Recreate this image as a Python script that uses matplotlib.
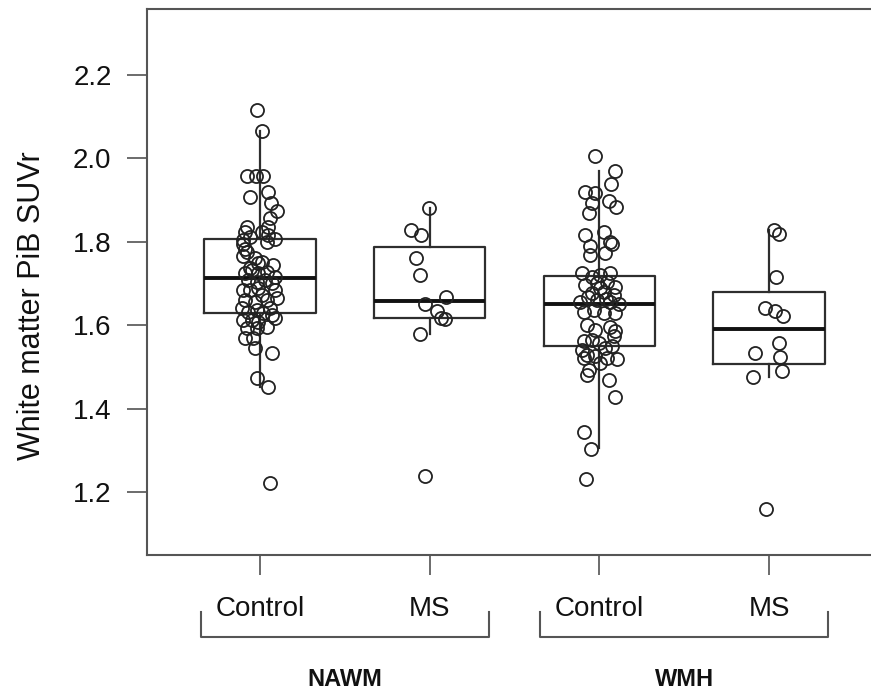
import matplotlib
matplotlib.use("Agg")
import matplotlib.pyplot as plt
import numpy as np

plt.rcParams['font.family'] = ['Liberation Sans', 'DejaVu Sans']

# ---------------- data ----------------
groups = ["NAWM", "NAWM", "WMH", "WMH"]
categories = ["Control", "MS", "Control", "MS"]
group_labels = ["NAWM", "WMH"]
yticks = [1.2, 1.4, 1.6, 1.8, 2.0, 2.2]

# box statistics: (whislo, q1, med, q3, whishi)
box_whislo = [1.452, 1.579, 1.305, 1.475]
box_q1     = [1.629, 1.617, 1.551, 1.506]
box_med    = [1.713, 1.659, 1.650, 1.590]
box_q3     = [1.807, 1.788, 1.719, 1.680]
box_whishi = [2.066, 1.880, 1.971, 1.828]

# individual points: values and horizontal jitter (category units)
nawm_ctrl_val = [2.116, 2.066, 1.958, 1.958, 1.958, 1.908, 1.920, 1.893, 1.874, 1.857,
                 1.836, 1.836, 1.824, 1.812, 1.804, 1.816, 1.807, 1.800, 1.824, 1.795,
                 1.783, 1.776, 1.766, 1.761, 1.749, 1.744, 1.732, 1.725, 1.725, 1.728,
                 1.716, 1.709, 1.704, 1.709, 1.701, 1.685, 1.689, 1.685, 1.661, 1.656,
                 1.661, 1.665, 1.641, 1.632, 1.636, 1.629, 1.625, 1.617, 1.613, 1.613,
                 1.608, 1.596, 1.593, 1.593, 1.569, 1.569, 1.545, 1.533, 1.473, 1.452,
                 1.222, 1.673, 1.737, 1.752, 1.685, 1.641]
nawm_ctrl_jit = [-0.018, 0.012, -0.077, -0.024, 0.018, -0.059, 0.047, 0.065, 0.100, 0.059,
                 0.047, -0.077, -0.088, -0.059, -0.100, 0.047, 0.088, 0.041, 0.012, -0.100,
                 -0.088, -0.077, -0.100, -0.029, -0.012, 0.077, -0.047, -0.088, -0.012, 0.041,
                 0.088, -0.071, -0.018, 0.029, 0.071, -0.100, -0.012, 0.088, -0.088, -0.029,
                 0.041, 0.100, -0.106, -0.071, -0.018, 0.018, 0.071, 0.088, -0.100, -0.047,
                 -0.012, 0.041, -0.077, -0.018, -0.088, -0.041, -0.029, 0.071, -0.018, 0.047,
                 0.059, 0.012, -0.059, 0.012, -0.059, 0.059]

nawm_ms_val = [1.880, 1.828, 1.816, 1.761, 1.720, 1.668, 1.651, 1.634, 1.617, 1.614, 1.579, 1.238]
nawm_ms_jit = [-0.004, -0.108, -0.049, -0.082, -0.059, 0.094, -0.029, 0.043, 0.069, 0.088, -0.059, -0.029]

wmh_ctrl_val = [2.006, 1.970, 1.938, 1.920, 1.916, 1.892, 1.898, 1.884, 1.870, 1.816,
                1.824, 1.790, 1.800, 1.795, 1.768, 1.773, 1.725, 1.716, 1.720, 1.726,
                1.697, 1.701, 1.704, 1.692, 1.677, 1.680, 1.673, 1.661, 1.656, 1.632,
                1.636, 1.629, 1.629, 1.601, 1.589, 1.596, 1.585, 1.573, 1.561, 1.565,
                1.558, 1.545, 1.549, 1.541, 1.529, 1.521, 1.525, 1.509, 1.521, 1.518,
                1.493, 1.481, 1.469, 1.427, 1.345, 1.303, 1.231, 1.689, 1.668, 1.663,
                1.651, 1.656]
wmh_ctrl_jit = [-0.024, 0.094, 0.071, -0.082, -0.024, -0.043, 0.055, 0.100, -0.063, -0.082,
                0.025, -0.053, 0.065, 0.075, -0.053, 0.035, -0.102, -0.043, 0.006, 0.061,
                -0.082, -0.014, 0.045, 0.094, -0.043, 0.025, 0.084, -0.014, 0.065, -0.093,
                -0.034, 0.025, 0.094, -0.072, -0.024, 0.065, 0.094, 0.084, -0.093, -0.043,
                -0.004, 0.035, 0.075, -0.102, -0.072, -0.093, -0.024, 0.006, 0.045, 0.104,
                -0.063, -0.072, 0.055, 0.090, -0.093, -0.047, -0.077, 0.006, -0.065, 0.041,
                0.118, -0.112]

wmh_ms_val = [1.828, 1.819, 1.716, 1.641, 1.635, 1.622, 1.558, 1.533, 1.523, 1.489, 1.475, 1.160]
wmh_ms_jit = [0.029, 0.061, 0.039, -0.024, 0.035, 0.081, 0.061, -0.082, 0.065, 0.075, -0.096, -0.018]

point_vals = [nawm_ctrl_val, nawm_ms_val, wmh_ctrl_val, wmh_ms_val]
point_jits = [nawm_ctrl_jit, nawm_ms_jit, wmh_ctrl_jit, wmh_ms_jit]

# ---------------- figure ----------------
W, H = 871, 696
fig = plt.figure(figsize=(W / 100, H / 100), dpi=100)
ax = fig.add_axes([147 / W, (H - 555) / H, (882 - 147) / W, (555 - 9.3) / H])

positions = np.arange(1, len(categories) + 1)
stats = []
for i in range(len(categories)):
    stats.append(dict(med=box_med[i], q1=box_q1[i], q3=box_q3[i],
                      whislo=box_whislo[i], whishi=box_whishi[i], fliers=[]))

line_col = '#2e2e2e'
ax.bxp(stats, positions=positions, widths=0.656, showcaps=False, showfliers=False,
       boxprops=dict(color=line_col, linewidth=1.6),
       whiskerprops=dict(color=line_col, linewidth=1.6),
       medianprops=dict(color='#111111', linewidth=2.8))

for i in range(len(categories)):
    xs = positions[i] + np.array(point_jits[i])
    ax.plot(xs, point_vals[i], 'o', ms=9.4, mfc='none', mec='#222222', mew=1.3, zorder=3)

ax.set_xlim(0.334, 4.666)
ax.set_ylim(1.0489, 2.3576)

for s in ax.spines.values():
    s.set_color('#555555')
    s.set_linewidth(1.5)

ax.set_yticks(yticks)
ax.set_yticklabels([f"{v:.1f}" for v in yticks])
ax.set_xticks(positions)
ax.set_xticklabels(categories)
ax.tick_params(axis='both', length=14.5, width=1.1, color='#444444', labelsize=20,
               labelcolor='#111111')
ax.tick_params(axis='y', pad=11)
ax.tick_params(axis='x', pad=15)

fig.text(32 / W, 1 - 306 / H, "White matter PiB SUVr", rotation=90, ha='center', va='center',
         fontsize=22, color='#111111')

# group brackets and labels
trans = ax.get_xaxis_transform()
ax_h = 555 - 9.3
def yfrac(py):
    return (555 - py) / ax_h

for g, gl in enumerate(group_labels):
    c = positions[2 * g] + 0.5
    x0, x1 = c - 0.85, c + 0.85
    ax.plot([x0, x0, x1, x1], [yfrac(612), yfrac(637), yfrac(637), yfrac(612)],
            transform=trans, clip_on=False, color='#555555', lw=1.5)
    ax.text(c, yfrac(680), gl, transform=trans, ha='center', va='center',
            fontsize=17, fontweight='bold', color='#111111')

fig.savefig("out.png", dpi=100)
